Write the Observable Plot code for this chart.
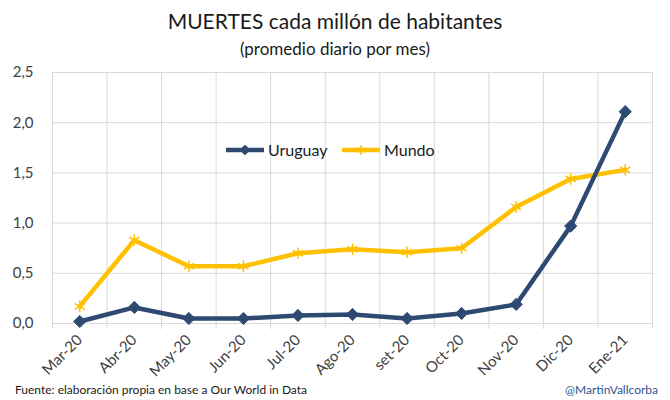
<!DOCTYPE html>
<html><head><meta charset="utf-8">
<script src="https://cdn.jsdelivr.net/npm/d3@7"></script>
<script src="https://cdn.jsdelivr.net/npm/@observablehq/plot@0.6"></script>
<style>
body{margin:0;background:#fff;font-family:Lato,"Open Sans",sans-serif;}
#wrap{position:relative;width:670px;height:400px;overflow:hidden;}
#wrap svg{position:absolute;left:0;top:0;}
.t{position:absolute;color:#1a1a1a;white-space:nowrap;}
</style></head>
<body><div id="wrap"></div>
<script>
const months = ["Mar-20","Abr-20","May-20","Jun-20","Jul-20","Ago-20","set-20","Oct-20","Nov-20","Dic-20","Ene-21"];
const uruguay = [0.02,0.16,0.05,0.05,0.08,0.09,0.05,0.10,0.19,0.97,2.11];
const mundo = [0.17,0.83,0.57,0.57,0.70,0.74,0.71,0.75,1.16,1.44,1.53];
const yTicks = [0,0.5,1,1.5,2,2.5];

const C_URU = "#2E4A73", C_MUN = "#FFC000";
const rows = months.map((m,i)=>({i, m, uruguay:uruguay[i], mundo:mundo[i]}));
const bounds = d3.range(months.length+1).map(i=>i-0.5);
const fmt = d => d.toFixed(1).replace(".", ",");

const chart = Plot.plot({
  width:670, height:400,
  marginTop:72, marginBottom:77, marginLeft:52, marginRight:18,
  style:{fontFamily:"Lato, 'Open Sans', sans-serif", fontSize:"14px", color:"#404040", background:"transparent"},
  x:{type:"linear", domain:[-0.5, months.length-0.5], axis:null},
  y:{domain:[0,2.5], axis:null},
  marks:[
    Plot.ruleY(yTicks.filter(d=>d>0), {stroke:"#d9d9d9", strokeWidth:1}),
    Plot.ruleY([0], {stroke:"#d9d9d9", strokeWidth:1}),
    Plot.tickX(bounds, {x:d=>d, y1:0, y2:0, stroke:"#d9d9d9", insetBottom:-6, insetTop:0, strokeWidth:1}),
    Plot.text(yTicks, {x:-0.5, y:d=>d, text:fmt, textAnchor:"end", dx:-19, fontSize:15, fill:"#404040"}),
    Plot.text(rows, {x:"i", y:0, text:"m", rotate:-45, textAnchor:"end", dx:0, dy:14, fontSize:15, fill:"#404040"}),
    Plot.line(rows, {x:"i", y:"mundo", stroke:C_MUN, strokeWidth:4.5}),
    Plot.dot(rows, {x:"i", y:"mundo", symbol:"asterisk", r:5.5, stroke:C_MUN, strokeWidth:1.5}),
    Plot.line(rows, {x:"i", y:"uruguay", stroke:C_URU, strokeWidth:4.5}),
    Plot.dot(rows, {x:"i", y:"uruguay", symbol:"diamond2", r:5.5, fill:C_URU, stroke:C_URU, strokeWidth:1})
  ]
});
const wrap = document.getElementById("wrap");
wrap.appendChild(chart);

function addText(txt, css){const d=document.createElement("div");d.className="t";d.textContent=txt;Object.assign(d.style,css);wrap.appendChild(d);return d;}
addText("MUERTES cada millón de habitantes",{left:"0",width:"670px",textAlign:"center",top:"8px",fontSize:"21px"});
addText("(promedio diario por mes)",{left:"0",width:"670px",textAlign:"center",top:"38px",fontSize:"17px"});
addText("Fuente: elaboración propia en base a Our World in Data",{left:"15px",top:"382px",fontSize:"12px"});
addText("@MartinVallcorba",{right:"12px",top:"382px",fontSize:"12px",color:"#2F5597"});

// legend
const leg = d3.select(wrap).append("svg").attr("width",670).attr("height",400).style("pointer-events","none");
const items = [{name:"Uruguay", color:C_URU, sym:d3.symbolDiamond2, fill:true, x:226},
               {name:"Mundo", color:C_MUN, sym:d3.symbolAsterisk, fill:false, x:342}];
items.forEach(it=>{
  const g = leg.append("g");
  g.append("line").attr("x1",it.x).attr("x2",it.x+38).attr("y1",150).attr("y2",150).attr("stroke",it.color).attr("stroke-width",4.5);
  g.append("path").attr("d",d3.symbol(it.sym,60)()).attr("transform",`translate(${it.x+19},150)`)
    .attr("fill",it.fill?it.color:"none").attr("stroke",it.color).attr("stroke-width",it.fill?1:1.5);
  g.append("text").attr("x",it.x+42).attr("y",155.5).text(it.name).attr("font-size",16).attr("fill","#1a1a1a")
    .attr("font-family","Lato, 'Open Sans', sans-serif");
});
</script></body></html>
